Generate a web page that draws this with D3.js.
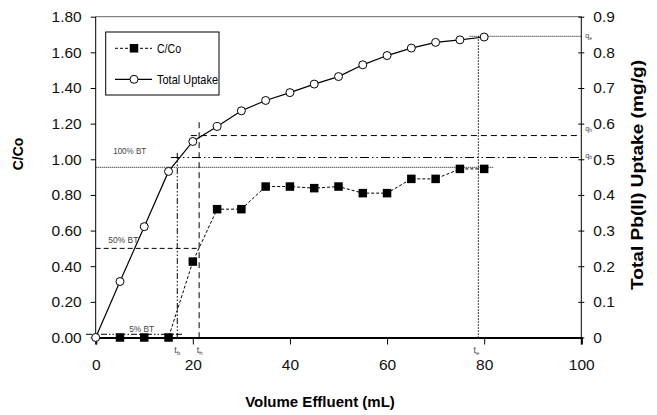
<!DOCTYPE html>
<meta charset="utf-8">
<script src="https://d3js.org/d3.v7.min.js"></script>
<style>
	body{
		margin:0;
		background:#fff;
		font-family: Arial, 'Liberation Sans', sans-serif;
	}
	.tick text{ font-size:15.5px; fill:#111; }
	.small{ fill:#444; }
</style>
<div id="chart"></div>
<script>

// data
var volume = [0,5,10,15,20,25,30,35,40,45,50,55,60,65,70,75,80]
var uptake = [0,0.157,0.311,0.466,0.550,0.592,0.636,0.665,0.687,0.711,0.732,0.765,0.791,0.812,0.828,0.835,0.843]
var ccoVolume = [5,10,15,20,25,30,35,40,45,50,55,60,65,70,75,80]
var cco = [0,0,0,0.426,0.72,0.72,0.847,0.847,0.838,0.847,0.81,0.81,0.89,0.89,0.946,0.946]

var xTicks = [0,20,40,60,80,100]
var leftTicks = [0,0.2,0.4,0.6,0.8,1.0,1.2,1.4,1.6,1.8]
var rightTicks = [0,0.1,0.2,0.3,0.4,0.5,0.6,0.7,0.8,0.9]

// breakthrough guide lines: [x1, x2, value, axis, dash]
var guideH = [
	[0,82,0.955,"left","1,1"],
	[15.5,100,1.01,"left","9,3,1.5,3,1.5,3"],
	[19.6,100,1.133,"left","6,4"],
	[77,100,0.845,"right","1,1"],
	[0,20.8,0.5,"left","5,3"],
	[-2,18,0.018,"left","6,2,1.5,2,1.5,2"]
]
// [x, top value, axis, dash]
var guideV = [
	[16.8,1.035,"left","6,2,1.5,2,1.5,2"],
	[21.3,1.208,"left","6,4"],
	[78.8,0.845,"right","1.5,1.5"]
]
var btLabels = ["100% BT","50% BT","5% BT"]
var btPos = [[3.6,1.03],[2.6,0.53],[6.9,0.03]]
var tLabels = [["t","b",16.2],["t","h",20.8],["t","e",77.8]]
var qLabels = [["q","e",0.845],["q","h",0.585],["q","b",0.51]]

var W = 657, H = 415
var margin = {left:95.7, right:W-581.3, top:16.7, bottom:H-337.5}

var svg = d3.select("#chart").append("svg").attr("width",W).attr("height",H)

var x = d3.scaleLinear().domain([0,100]).range([margin.left, W-margin.right])
var yL = d3.scaleLinear().domain([0,1.8]).range([H-margin.bottom, margin.top])
var yR = d3.scaleLinear().domain([0,0.9]).range([H-margin.bottom, margin.top])
function yOf(axis){ return axis=="right" ? yR : yL }

// top frame line
svg.append("line").attr("x1",x(0)).attr("x2",x(100)).attr("y1",yL(1.8)).attr("y2",yL(1.8))
	.attr("stroke","#666").attr("stroke-width",1)

// guides
svg.append("g").selectAll("line").data(guideH).join("line")
	.attr("x1",d=>x(d[0])).attr("x2",d=>x(d[1]))
	.attr("y1",d=>yOf(d[3])(d[2])).attr("y2",d=>yOf(d[3])(d[2]))
	.attr("stroke","#000").attr("stroke-width",1).attr("stroke-dasharray",d=>d[4])
svg.append("g").selectAll("line").data(guideV).join("line")
	.attr("x1",d=>x(d[0])).attr("x2",d=>x(d[0]))
	.attr("y1",d=>yOf(d[2])(d[1])).attr("y2",yL(0))
	.attr("stroke","#000").attr("stroke-width",1).attr("stroke-dasharray",d=>d[3])

// axes
var gx = svg.append("g").attr("transform","translate(0,"+yL(0)+")")
	.call(d3.axisBottom(x).tickValues(xTicks).tickSize(7).tickPadding(14).tickFormat(d3.format("d")))
gx.select(".domain").attr("stroke-width",2)
var gl = svg.append("g").attr("transform","translate("+x(0)+",0)")
	.call(d3.axisLeft(yL).tickValues(leftTicks).tickSize(5).tickPadding(9).tickFormat(d3.format(".2f")))
gl.select(".domain").attr("d","M0,"+yL(1.8)+"V"+yL(0))
var gr = svg.append("g").attr("transform","translate("+x(100)+",0)")
	.call(d3.axisRight(yR).tickValues(rightTicks).tickSize(3).tickPadding(9).tickFormat(function(d){ return d==0 ? "0" : d3.format(".1f")(d) }))
gr.select(".domain").attr("d","M0,"+yR(0.9)+"V"+yR(0))
gr.selectAll(".tick line").attr("x1",-3)
svg.selectAll(".tick line").attr("stroke","#000")

// series
var lineUp = d3.line().x((d,i)=>x(volume[i])).y(d=>yR(d))
svg.append("path").attr("d",lineUp(uptake)).attr("fill","none").attr("stroke","#000").attr("stroke-width",1.2)
var lineC = d3.line().x((d,i)=>x(ccoVolume[i])).y(d=>yL(d))
svg.append("path").attr("d",lineC(cco)).attr("fill","none").attr("stroke","#000").attr("stroke-width",1).attr("stroke-dasharray","3,2")

svg.append("g").selectAll("rect").data(cco).join("rect")
	.attr("x",(d,i)=>x(ccoVolume[i])-4.25).attr("y",d=>yL(d)-4.25)
	.attr("width",8.5).attr("height",8.5).attr("fill","#000")
svg.append("g").selectAll("circle").data(uptake).join("circle")
	.attr("cx",(d,i)=>x(volume[i])).attr("cy",d=>yR(d)).attr("r",4)
	.attr("fill","#fff").attr("stroke","#000").attr("stroke-width",1)

// small labels
svg.append("g").selectAll("text").data(btLabels).join("text")
	.attr("class","small").attr("x",(d,i)=>x(btPos[i][0])).attr("y",(d,i)=>yL(btPos[i][1]))
	.style("font-size","8.5px").attr("transform-origin",(d,i)=>x(btPos[i][0])+"px 0px")
	.attr("textLength",(d,i)=>i==0?33:(i==1?30:25)).attr("lengthAdjust","spacingAndGlyphs")
	.text(d=>d)
var tl = svg.append("g").selectAll("text").data(tLabels).join("text")
	.attr("class","small").attr("x",d=>x(d[2])).attr("y",yL(0)+15).style("font-size","9px")
tl.append("tspan").text(d=>d[0])
tl.append("tspan").attr("dy",2).style("font-size","6px").text(d=>d[1])
var ql = svg.append("g").selectAll("text").data(qLabels).join("text")
	.attr("class","small").attr("x",x(100)+4).attr("y",d=>yR(d[2])+2).style("font-size","7px").attr("fill","#777")
ql.append("tspan").text(d=>d[0])
ql.append("tspan").attr("dy",1.5).style("font-size","5px").text(d=>d[1])

// axis titles
svg.append("text").attr("x",320).attr("y",407).attr("text-anchor","middle")
	.style("font-size","15px").style("font-weight","bold").text("Volume Effluent (mL)")
svg.append("text").attr("transform","translate(23,154) rotate(-90)").attr("text-anchor","middle")
	.style("font-size","14px").style("font-weight","bold").text("C/Co")
svg.append("text").attr("transform","translate(643,175) rotate(-90)").attr("text-anchor","middle")
	.style("font-size","16px").style("font-weight","bold")
	.attr("textLength",230).attr("lengthAdjust","spacingAndGlyphs").text("Total Pb(II) Uptake (mg/g)")

// legend
var lg = svg.append("g")
lg.append("rect").attr("x",105.7).attr("y",32).attr("width",113.3).attr("height",63)
	.attr("fill","#fff").attr("stroke","#000").attr("stroke-width",1)
lg.append("line").attr("x1",115).attr("x2",152).attr("y1",48.3).attr("y2",48.3)
	.attr("stroke","#000").attr("stroke-dasharray","3,2")
lg.append("rect").attr("x",134-4.25).attr("y",48.3-4.25).attr("width",8.5).attr("height",8.5).attr("fill","#000")
lg.append("line").attr("x1",115).attr("x2",152).attr("y1",79.3).attr("y2",79.3).attr("stroke","#000").attr("stroke-width",1.2)
lg.append("circle").attr("cx",134).attr("cy",79.3).attr("r",4).attr("fill","#fff").attr("stroke","#000")
lg.append("text").attr("x",157).attr("y",53).style("font-size","13px")
	.attr("textLength",24).attr("lengthAdjust","spacingAndGlyphs").text("C/Co")
lg.append("text").attr("x",157).attr("y",84).style("font-size","13px")
	.attr("textLength",61).attr("lengthAdjust","spacingAndGlyphs").text("Total Uptake")

</script>
